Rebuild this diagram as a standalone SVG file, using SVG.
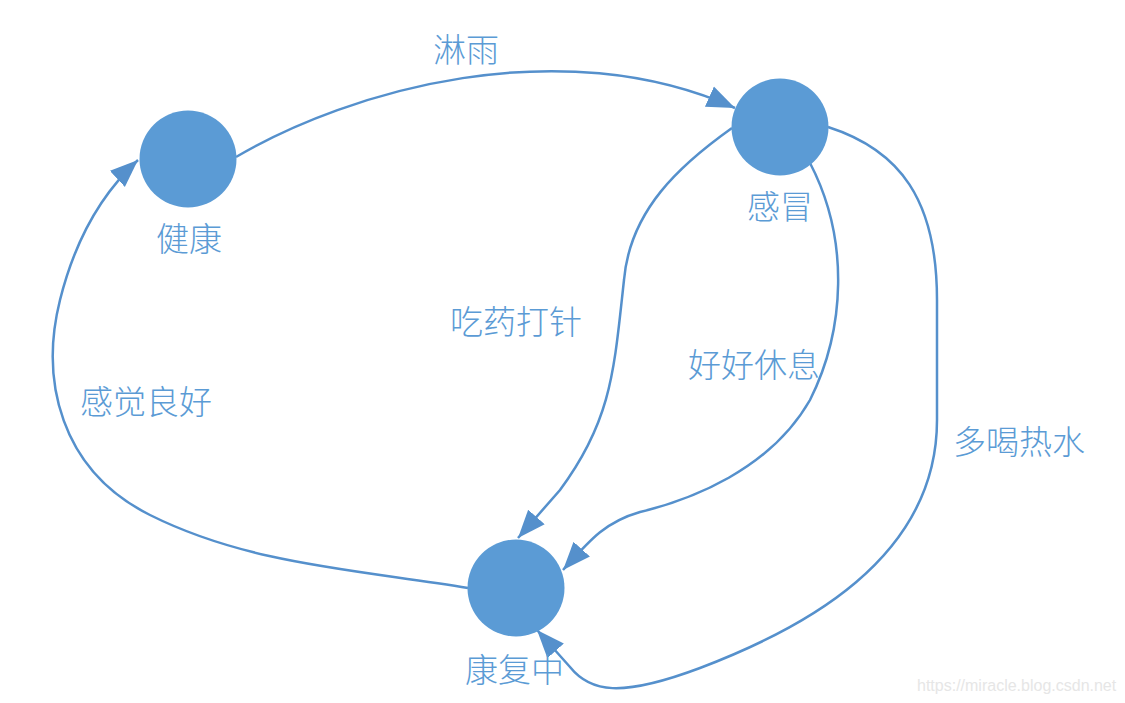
<svg xmlns="http://www.w3.org/2000/svg" width="1125" height="703" viewBox="0 0 1125 703">
<style>
.node{fill:#5B9BD5;}
.lbl{fill:#5B9BD5;font-family:"Noto Sans CJK SC","Liberation Sans",sans-serif;font-size:33px;font-weight:300;}
.edge{fill:none;stroke:#5590CC;stroke-width:2.5;marker-end:url(#arr);}
.wm{fill:#e6e6e6;font-family:"Liberation Sans",sans-serif;font-size:16px;}
</style>
<defs>
<marker id="arr" markerUnits="userSpaceOnUse" markerWidth="30" markerHeight="24" refX="28" refY="11" orient="auto" viewBox="0 0 30 22">
<path d="M0,0 L28,11 L0,22 z" fill="#5590CC"/>
</marker>
</defs>
<rect width="1125" height="703" fill="#ffffff"/>
<g id="connectors">
<path class="edge" d="M236,157 C 350,90 560,30 735,108"/>
<path class="edge" d="M732,128 C 680,165 630,210 624,280 C 614,370 612,420 560,490 L 518,538"/>
<path class="edge" d="M810,163 C 850,240 845,330 810,400 C 770,470 690,500 640,512 C 605,522 590,540 563,570"/>
<path class="edge" d="M828,127 C 900,150 937,200 937,300 L 937,420 C 937,560 800,630 700,668 C 620,698 590,692 570,667 L 537,630"/>
<path class="edge" d="M468,588 C 360,570 250,565 150,515 C 60,470 40,380 60,300 C 75,240 100,195 138,160"/>
</g>
<g id="edge-labels">
<text class="lbl" x="433" y="62">淋雨</text>
<text class="lbl" x="450" y="334">吃药打针</text>
<text class="lbl" x="688" y="377">好好休息</text>
<text class="lbl" x="953" y="454">多喝热水</text>
<text class="lbl" x="80" y="414">感觉良好</text>
</g>
<g id="node-healthy">
<circle class="node" cx="188" cy="159" r="48.5"/>
<text class="lbl" x="156" y="251">健康</text>
</g>
<g id="node-cold">
<circle class="node" cx="780" cy="127" r="48.5"/>
<text class="lbl" x="747" y="219">感冒</text>
</g>
<g id="node-recovering">
<circle class="node" cx="516" cy="588" r="48.5"/>
<text class="lbl" x="465" y="682">康复中</text>
</g>
<text class="wm" x="917" y="691">https://miracle.blog.csdn.net</text>
</svg>
